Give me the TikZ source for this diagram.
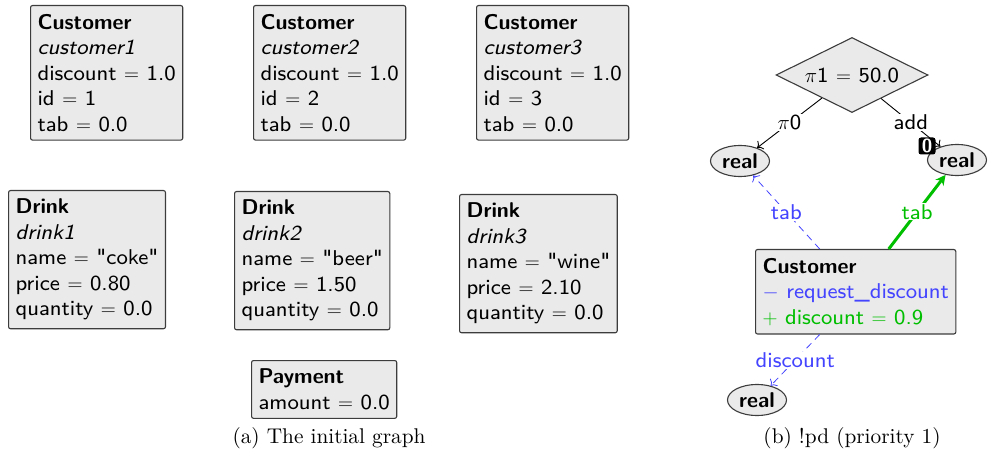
\documentclass[tikz,border=0pt]{standalone}
\usepackage{amsmath,amssymb}
\usepackage{xcolor}
\usepackage{tikz}
\usetikzlibrary{calc,arrows.meta,positioning,shapes.geometric}
\definecolor{graphBlue}{RGB}{68,68,255}
\definecolor{graphGreen}{RGB}{0,190,0}
\definecolor{graphFill}{RGB}{234,234,234}
\definecolor{graphLine}{RGB}{60,60,60}
\font\objfont="[lmsans8-regular]" at 21.4pt
\font\objbf="[lmsans10-bold]" at 21.4pt
\font\objit="[lmsans8-oblique]" at 21.4pt
\font\badgefont="[lmsans10-bold]" at 19pt
\font\captfont="[lmroman10-regular]" at 21.3pt
\tikzset{
  objbox/.style={draw=graphLine, fill=graphFill, line width=1.1pt, rounded corners=2pt,
    anchor=north west, align=left, inner xsep=7pt, inner ysep=8.5pt,
    font={\fontsize{21.4}{25.5}\selectfont\objfont}},
  valnode/.style={ellipse, draw=graphLine, fill=graphFill, line width=1.1pt,
    minimum width=59pt, minimum height=31pt, inner sep=0pt, font=\objbf},
  condnode/.style={diamond, draw=graphLine, fill=graphFill, line width=1.1pt,
    minimum width=152pt, minimum height=75pt, inner sep=0pt, aspect=2,
    font={\fontsize{21.4}{25.5}\selectfont\objfont}},
  edgelbl/.style={fill=white, inner sep=1pt, font={\fontsize{21.4}{25.5}\selectfont\objfont}},
  capt/.style={font=\captfont}
}
\begin{document}
\begin{tikzpicture}[x=1pt, y=-1pt]
\useasboundingbox (0,0) rectangle (996,457);
% initial graph
\node[objbox] (cust1) at (30,5) {{\objbf Customer}\\ {\objit customer1}\\ discount $=$ 1.0\\ id $=$ 1\\ tab $=$ 0.0};
\node[objbox] (cust2) at (253,5) {{\objbf Customer}\\ {\objit customer2}\\ discount $=$ 1.0\\ id $=$ 2\\ tab $=$ 0.0};
\node[objbox] (cust3) at (476,5) {{\objbf Customer}\\ {\objit customer3}\\ discount $=$ 1.0\\ id $=$ 3\\ tab $=$ 0.0};
\node[objbox] (drink1) at (8,190) {{\objbf Drink}\\ {\objit drink1}\\ name $=$ "coke"\\ price $=$ 0.80\\ quantity $=$ 0.0};
\node[objbox] (drink2) at (234,191) {{\objbf Drink}\\ {\objit drink2}\\ name $=$ "beer"\\ price $=$ 1.50\\ quantity $=$ 0.0};
\node[objbox] (drink3) at (459,194) {{\objbf Drink}\\ {\objit drink3}\\ name $=$ "wine"\\ price $=$ 2.10\\ quantity $=$ 0.0};
\node[objbox] (pay) at (251,360) {{\objbf Payment}\\ amount $=$ 0.0};
\node[capt] (captA) at (329,438) {(a) The initial graph};
% rule !pd
\node[condnode] (cond) at (852,75) {$\pi$1 $=$ 50.0};
\node[valnode] (realL) at (740,161) {real};
\node[valnode] (realR) at (957,160) {real};
\node[objbox] (custR) at (755,249) {{\objbf Customer}\\ \textcolor{graphBlue}{$-$ request\_discount}\\ \textcolor{graphGreen}{$+$ discount $=$ 0.9}};
\node[valnode] (realB) at (757,400) {real};
\coordinate (tabL) at ([xshift=-36pt]custR.north);
\coordinate (tabR) at ([xshift=33pt]custR.north);
\coordinate (discB) at ([xshift=-36pt]custR.south);
\draw[black, line width=0.9pt, -{To[length=5pt]}] (cond) -- node[edgelbl] {$\pi$0} (realL);
\draw[black, line width=0.9pt, -{To[length=5pt]}] (cond) -- node[edgelbl] {add} (realR);
\draw[graphBlue, line width=0.8pt, dash pattern=on 7pt off 5pt, -{To[length=5pt]}] (tabL) -- node[edgelbl, text=graphBlue] {tab} (realL);
\draw[graphGreen, line width=3pt, -{Stealth[length=10pt, width=10pt, inset=3pt]}] (tabR) -- node[edgelbl, text=graphGreen] {tab} (realR);
\draw[graphBlue, line width=0.8pt, dash pattern=on 7pt off 5pt, -{To[length=5pt]}] (discB) -- node[edgelbl, text=graphBlue] {discount} (realB);
\node[fill=black, text=white, rounded corners=2.5pt, inner sep=1pt, minimum width=17pt, minimum height=17pt,
  font=\badgefont] (badge) at (927,146) {0};
\node[capt] (captB) at (852,438) {(b) !pd (priority 1)};
\end{tikzpicture}
\end{document}
